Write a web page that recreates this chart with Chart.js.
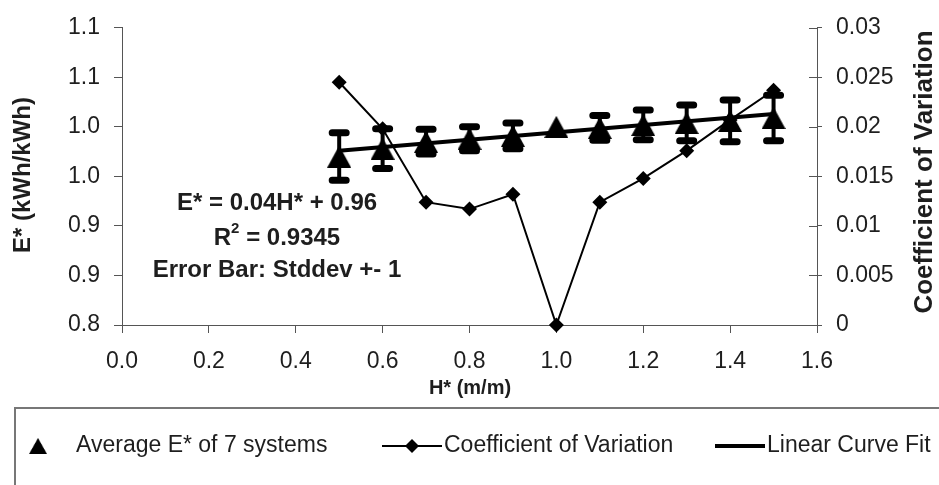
<!DOCTYPE html>
<html>
<head>
<meta charset="utf-8">
<script src="https://cdn.jsdelivr.net/npm/chart.js@4.4.1/dist/chart.umd.min.js"></script>
<style>
  html, body { margin: 0; padding: 0; background: #fff; }
  #wrap { width: 939px; height: 485px; }
</style>
</head>
<body>
<div id="wrap"><canvas id="chart" width="939" height="485"></canvas></div>
<script>
// values
var hValues = [0.5, 0.6, 0.7, 0.8, 0.9, 1.0, 1.1, 1.2, 1.3, 1.4, 1.5];
var avgE = [0.970, 0.978, 0.985, 0.988, 0.991, 1.000, 0.999, 1.002, 1.004, 1.006, 1.009];
var eStddev = [0.024, 0.020, 0.0125, 0.012, 0.013, 0, 0.0125, 0.015, 0.018, 0.021, 0.023];
var covValues = [0.0245, 0.0198, 0.0124, 0.0117, 0.0132, 0, 0.0124, 0.0148, 0.0176, 0.0207, 0.0237];
var fitH = [0.5, 1.5];
var fitE = [0.976, 1.013];

var xTickLabels = ['0.0', '0.2', '0.4', '0.6', '0.8', '1.0', '1.2', '1.4', '1.6'];
var yTickLabels = ['0.8', '0.9', '0.9', '1.0', '1.0', '1.1', '1.1'];
var y2TickLabels = ['0', '0.005', '0.01', '0.015', '0.02', '0.025', '0.03'];

var seriesNames = ['Average E* of 7 systems', 'Coefficient of Variation', 'Linear Curve Fit'];

var fontFamily = '"Liberation Sans", Arial, sans-serif';
var textColor = '#1e1e1e';
var axisColor = '#555';

// triangle marker drawn centred in its box (like excel does)
function makeTriangle(w, h) {
    var c = document.createElement('canvas');
    c.width = w;
    c.height = h;
    var g = c.getContext('2d');
    g.fillStyle = '#000';
    g.beginPath();
    g.moveTo(w / 2, 0);
    g.lineTo(w, h);
    g.lineTo(0, h);
    g.closePath();
    g.fill();
    return c;
}
var triangle = makeTriangle(24, 22);

function pts(xs, ys) {
    return xs.map(function (x, i) { return { x: x, y: ys[i] }; });
}

var errorBars = {
    id: 'errorBars',
    afterDatasetsDraw: function (chart) {
        var ctx = chart.ctx;
        var xs = chart.scales.x, ys = chart.scales.y;
        ctx.save();
        ctx.strokeStyle = '#000';
        ctx.lineCap = 'round';
        for (var i = 0; i < hValues.length; i++) {
            if (!eStddev[i]) continue;
            var x = xs.getPixelForValue(hValues[i]);
            var top = ys.getPixelForValue(avgE[i] + eStddev[i]);
            var bot = ys.getPixelForValue(avgE[i] - eStddev[i]);
            ctx.lineWidth = 4;
            ctx.beginPath();
            ctx.moveTo(x, top);
            ctx.lineTo(x, bot);
            ctx.stroke();
            ctx.lineWidth = 7;
            ctx.beginPath();
            ctx.moveTo(x - 7, top);
            ctx.lineTo(x + 7, top);
            ctx.moveTo(x - 7, bot);
            ctx.lineTo(x + 7, bot);
            ctx.stroke();
        }
        ctx.restore();
    }
};

var extras = {
    id: 'extras',
    afterDraw: function (chart) {
        var ctx = chart.ctx;
        var area = chart.chartArea;
        var y2 = chart.scales.y2;
        ctx.save();

        // right axis ticks cross the axis
        ctx.strokeStyle = axisColor;
        ctx.lineWidth = 1;
        y2.ticks.forEach(function (t, i) {
            var y = Math.round(y2.getPixelForTick(i)) + 0.5;
            ctx.beginPath();
            ctx.moveTo(area.right - 8, y);
            ctx.lineTo(area.right, y);
            ctx.stroke();
        });

        ctx.fillStyle = textColor;
        ctx.textAlign = 'center';
        ctx.textBaseline = 'middle';

        // axis titles
        ctx.font = 'bold 24px ' + fontFamily;
        ctx.save();
        ctx.translate(23, 175);
        ctx.rotate(-Math.PI / 2);
        ctx.fillText('E* (kWh/kWh)', 0, 0);
        ctx.restore();
        ctx.font = 'bold 26px ' + fontFamily;
        ctx.save();
        ctx.translate(925, 172);
        ctx.rotate(-Math.PI / 2);
        ctx.fillText('Coefficient of Variation', 0, 0);
        ctx.restore();
        ctx.font = 'bold 20px ' + fontFamily;
        ctx.fillText('H* (m/m)', 470, 388);

        // fit annotation
        ctx.font = 'bold 24px ' + fontFamily;
        ctx.fillText('E* = 0.04H* + 0.96', 277, 203);
        ctx.fillText('Error Bar: Stddev +- 1', 277, 270);
        var rest = ' = 0.9345';
        var wR = ctx.measureText('R').width;
        var wRest = ctx.measureText(rest).width;
        ctx.font = 'bold 15px ' + fontFamily;
        var wSup = ctx.measureText('2').width;
        var x0 = 277 - (wR + wSup + wRest) / 2;
        ctx.textAlign = 'left';
        ctx.fillText('2', x0 + wR, 229);
        ctx.font = 'bold 24px ' + fontFamily;
        ctx.fillText('R', x0, 238);
        ctx.fillText(rest, x0 + wR + wSup, 238);

        // legend box
        ctx.strokeStyle = '#777';
        ctx.lineWidth = 2;
        ctx.strokeRect(15, 408, 940, 100);

        var ly = 446;
        ctx.font = '23px ' + fontFamily;
        ctx.fillStyle = textColor;
        ctx.drawImage(triangle, 38 - 9, ly - 8, 18, 16);
        ctx.fillText(seriesNames[0], 76, ly);

        ctx.strokeStyle = '#000';
        ctx.lineWidth = 2;
        ctx.beginPath();
        ctx.moveTo(382, ly);
        ctx.lineTo(442, ly);
        ctx.stroke();
        ctx.fillStyle = '#000';
        ctx.beginPath();
        ctx.moveTo(412, ly - 7);
        ctx.lineTo(419, ly);
        ctx.lineTo(412, ly + 7);
        ctx.lineTo(405, ly);
        ctx.closePath();
        ctx.fill();
        ctx.fillStyle = textColor;
        ctx.fillText(seriesNames[1], 444, ly);

        ctx.lineWidth = 4;
        ctx.beginPath();
        ctx.moveTo(715, ly);
        ctx.lineTo(765, ly);
        ctx.stroke();
        ctx.fillText(seriesNames[2], 767, ly);

        ctx.restore();
    }
};

var tickFont = { family: fontFamily, size: 23 };

var chart = new Chart(document.getElementById('chart'), {
    type: 'scatter',
    data: {
        datasets: [
            {
                label: seriesNames[0],
                data: pts(hValues, avgE),
                yAxisID: 'y',
                pointStyle: triangle,
                showLine: false,
                clip: false
            },
            {
                label: seriesNames[1],
                data: pts(hValues, covValues),
                yAxisID: 'y2',
                showLine: true,
                borderColor: '#000',
                borderWidth: 2,
                backgroundColor: '#000',
                pointStyle: 'rectRot',
                pointRadius: 7.5,
                pointBorderWidth: 0,
                clip: false
            },
            {
                label: seriesNames[2],
                data: pts(fitH, fitE),
                yAxisID: 'y',
                showLine: true,
                borderColor: '#000',
                borderWidth: 4,
                pointRadius: 0,
                clip: false
            }
        ]
    },
    options: {
        responsive: false,
        animation: false,
        devicePixelRatio: 1,
        layout: { padding: { top: 21, left: 0, right: 0, bottom: 0 } },
        plugins: {
            legend: { display: false },
            tooltip: { enabled: false }
        },
        scales: {
            x: {
                type: 'linear',
                position: 'bottom',
                min: 0,
                max: 1.6,
                afterFit: function (s) { s.height = 160; },
                ticks: {
                    stepSize: 0.2,
                    font: tickFont,
                    color: textColor,
                    padding: 15,
                    maxRotation: 0,
                    callback: function (v, i) { return xTickLabels[i]; }
                },
                grid: { drawOnChartArea: false, drawTicks: true, tickLength: 8, color: axisColor },
                border: { color: axisColor, width: 1 }
            },
            y: {
                type: 'linear',
                position: 'left',
                min: 0.8,
                max: 1.1,
                afterFit: function (s) { s.width = 122; },
                ticks: {
                    stepSize: 0.05,
                    font: tickFont,
                    color: textColor,
                    padding: 14,
                    callback: function (v, i) { return yTickLabels[i]; }
                },
                grid: { drawOnChartArea: false, drawTicks: true, tickLength: 8, color: axisColor },
                border: { color: axisColor, width: 1 }
            },
            y2: {
                type: 'linear',
                position: 'right',
                min: 0,
                max: 0.03,
                afterFit: function (s) { s.width = 122; },
                ticks: {
                    stepSize: 0.005,
                    font: tickFont,
                    color: textColor,
                    padding: 14,
                    callback: function (v, i) { return y2TickLabels[i]; }
                },
                grid: { drawOnChartArea: false, drawTicks: true, tickLength: 5, color: axisColor },
                border: { color: axisColor, width: 1 }
            }
        }
    },
    plugins: [errorBars, extras]
});
</script>
</body>
</html>
